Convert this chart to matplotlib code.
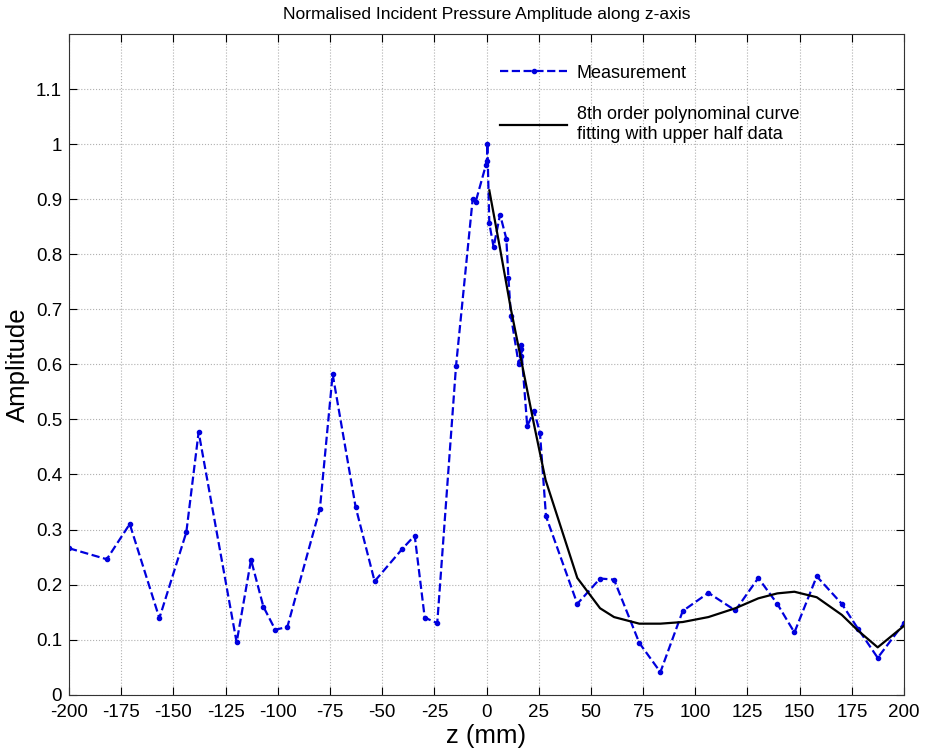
import numpy as np
import matplotlib
matplotlib.use("Agg")
import matplotlib.pyplot as plt

plt.rcParams['font.family'] = ['Liberation Sans', 'DejaVu Sans']

# measured amplitude along z
z_meas = [-200, -181.9, -170.9, -156.7, -143.8, -137.9, -119.7, -112.8, -106.9,
          -101.2, -95.4, -79.8, -73.7, -62.7, -53.6, -40.3, -34.4, -29.6, -23.6,
          -14.6, -6.6, -5.2, -0.3, 0.2, 0.4, 1.35, 3.4, 6.5, 9.5, 10.5, 11.7,
          15.4, 16.3, 16.5, 16.5, 19.5, 22.8, 25.6, 28.5, 43.5, 54.4, 61.1, 73.2,
          83.3, 94.0, 106.3, 119.2, 130.2, 139.3, 147.5, 158.2, 170.2, 178.1,
          187.4, 200]
amp_meas = [0.266, 0.246, 0.310, 0.139, 0.295, 0.477, 0.095, 0.245, 0.160,
            0.118, 0.123, 0.338, 0.582, 0.341, 0.206, 0.265, 0.289, 0.140, 0.130,
            0.597, 0.901, 0.895, 0.962, 0.970, 1.000, 0.856, 0.813, 0.872, 0.828,
            0.757, 0.688, 0.601, 0.615, 0.627, 0.636, 0.488, 0.515, 0.476, 0.324,
            0.165, 0.211, 0.209, 0.094, 0.041, 0.152, 0.185, 0.153, 0.212, 0.165,
            0.113, 0.215, 0.165, 0.119, 0.067, 0.130]

# 8th order polynomial fit evaluated on the upper half positions
z_fit = [1.35, 6.5, 11.7, 16.5, 22.8, 28.3, 43.5, 54.4, 61.1, 73.2, 83.3, 94.0,
         106.3, 119.2, 130.2, 139.3, 147.5, 158.2, 170.2, 178.1, 187.4, 200]
amp_fit = [0.916, 0.81, 0.70, 0.61, 0.49, 0.39, 0.212, 0.157, 0.141, 0.129, 0.129,
           0.132, 0.141, 0.157, 0.175, 0.184, 0.187, 0.177, 0.145, 0.116, 0.086, 0.125]

xticks = np.arange(-200, 201, 25)
yticks = np.round(np.arange(0, 1.15, 0.1), 1)
ylabels = ['0' if v == 0 else ('1' if v == 1 else f'{v:g}') for v in yticks]

fig = plt.figure(figsize=(9.25, 7.52), dpi=100)
ax = fig.add_axes([0.0746, 0.0762, 0.9027, 0.8786])

ax.plot(z_meas, amp_meas, '--', color='#0000dd', lw=1.6, marker='o', ms=3,
        label='Measurement')
ax.plot(z_fit, amp_fit, '-', color='black', lw=1.6,
        label='8th order polynominal curve\nfitting with upper half data')

ax.set_xlim(-200, 200)
ax.set_ylim(0, 1.2)
ax.set_xticks(xticks)
ax.set_xticklabels([str(v) for v in xticks])
ax.set_yticks(yticks)
ax.set_yticklabels(ylabels)
ax.tick_params(direction='in', top=True, right=True, length=6, labelsize=13.5)
ax.tick_params(axis='x', pad=7)
ax.tick_params(axis='y', pad=5)
ax.grid(True, linestyle=':', color='#b0b0b0', lw=0.8)
for s in ax.spines.values():
    s.set_color('#333333')

ax.set_title('Normalised Incident Pressure Amplitude along z-axis', fontsize=12.5,
             pad=11)
ax.set_xlabel('z (mm)', fontsize=18.5, labelpad=2)
ax.set_ylabel('Amplitude', fontsize=18.5, labelpad=4)

leg = ax.legend(loc='upper left', bbox_to_anchor=(0.497, 0.978), frameon=False,
                fontsize=13, handlelength=3.7, labelspacing=1.35, handletextpad=0.55)
for t in leg.get_texts():
    t.set_linespacing(1.25)

fig.savefig('out.png', dpi=100)
